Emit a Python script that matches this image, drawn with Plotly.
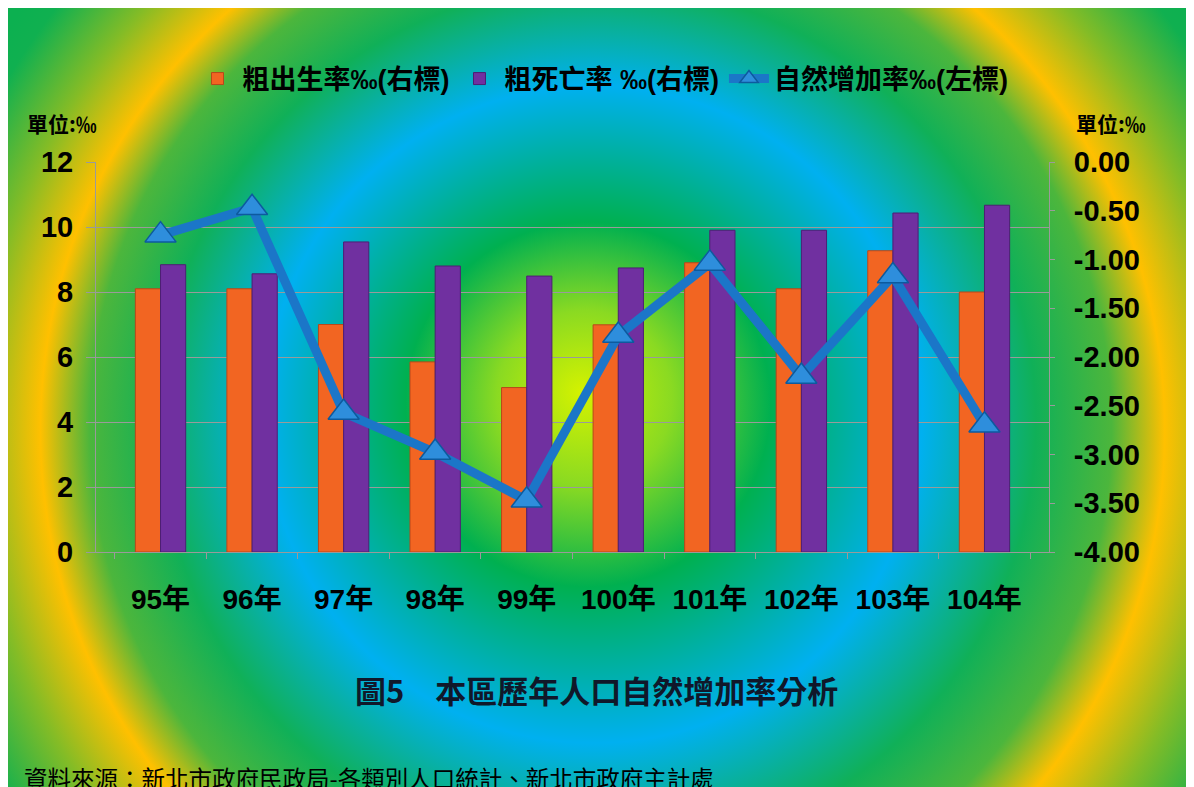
import base64
import plotly.graph_objects as go

# ---- data ----
years = ["95年", "96年", "97年", "98年", "99年", "100年", "101年", "102年", "103年", "104年"]
birth_rate = [8.10, 8.10, 7.00, 5.85, 5.06, 6.99, 8.90, 8.10, 9.27, 8.00]
death_rate = [8.84, 8.56, 9.54, 8.80, 8.49, 8.74, 9.90, 9.90, 10.43, 10.67]
natural_increase = [-0.75, -0.47, -2.57, -2.98, -3.47, -1.78, -1.04, -2.20, -1.17, -2.70]
right_ticks = [0.0, -0.5, -1.0, -1.5, -2.0, -2.5, -3.0, -3.5, -4.0]

legend_names = ["粗出生率‰(右標)", "粗死亡率 ‰(右標)", "自然增加率‰(左標)"]
title_text = "圖5　本區歷年人口自然增加率分析"
source_text = "資料來源：新北市政府民政局-各類別人口統計、新北市政府主計處"
unit_text = "單位:‰"

# ---- layout geometry (page offset of the figure) ----
OX, OY = 7, 6
W, H = 1194, 787
ML = 95 - OX
MT = 160 - OY
PW, PH = 953, 390
MR = W - ML - PW
MB = H - MT - PH

def px_x(x):  # page x -> paper
    return (x - OX - ML) / PW

def px_y(y):  # page y -> paper
    return (MT + PH - (y - OY)) / PH

# radial gradient background as SVG (figure coords)
svg = f'''<svg xmlns="http://www.w3.org/2000/svg" width="{W}" height="{H}" viewBox="0 0 {W} {H}" preserveAspectRatio="none">
<defs><radialGradient id="g" gradientUnits="userSpaceOnUse" cx="{608-OX}" cy="{440-OY}" r="730" fx="{580-OX}" fy="{390-OY}">
<stop offset="0" stop-color="#D4F200"/>
<stop offset="0.12" stop-color="#8ADA22"/>
<stop offset="0.25" stop-color="#00B050"/>
<stop offset="0.45" stop-color="#00B0F0"/>
<stop offset="0.60" stop-color="#10B058"/>
<stop offset="0.70" stop-color="#4CB63C"/>
<stop offset="0.77" stop-color="#FFC000"/>
<stop offset="0.86" stop-color="#84BC26"/>
<stop offset="0.96" stop-color="#10B050"/>
<stop offset="1" stop-color="#0CB050"/>
</radialGradient></defs>
<rect x="0" y="0" width="{W}" height="{H}" fill="url(#g)"/>
</svg>'''
bg_uri = "data:image/svg+xml;base64," + base64.b64encode(svg.encode("utf-8")).decode("ascii")

NUM_FONT = "Liberation Sans Narrow, Liberation Sans, Noto Sans CJK TC"
CJK_FONT = "Noto Sans CJK TC"

fig = go.Figure()
fig.add_trace(go.Bar(
    x=years, y=birth_rate, name=legend_names[0],
    marker=dict(color="#F26522", line=dict(color="#B8481A", width=1)),
    yaxis="y",
))
fig.add_trace(go.Bar(
    x=years, y=death_rate, name=legend_names[1],
    marker=dict(color="#7030A0", line=dict(color="#4E1E74", width=1)),
    yaxis="y",
))
fig.add_trace(go.Scatter(
    x=years, y=natural_increase, name=legend_names[2], mode="lines+markers",
    line=dict(color="#1B76C8", width=9),
    marker=dict(symbol="triangle-up", size=27, color="#2E8EDC",
                line=dict(color="#0D5A9E", width=1.5)),
    yaxis="y2",
))

axis_gray = "#9A9A9A"
fig.update_layout(
    width=W, height=H,
    margin=dict(l=ML, r=MR, t=MT, b=MB, autoexpand=False),
    paper_bgcolor="#2DB04A",
    plot_bgcolor="rgba(0,0,0,0)",
    barmode="group", bargap=0.45, bargroupgap=0,
    font=dict(family=NUM_FONT, color="black"),
    showlegend=True,
    legend=dict(
        orientation="h", x=px_x(602), y=px_y(77), xanchor="center", yanchor="middle",
        font=dict(family=NUM_FONT, size=27, color="black", weight="bold"),
        bgcolor="rgba(0,0,0,0)", traceorder="normal", itemwidth=40,
    ),
    xaxis=dict(
        type="category", showline=True, linecolor=axis_gray, linewidth=1,
        ticks="outside", ticklen=6, tickcolor=axis_gray, tickson="boundaries",
        tickfont=dict(family=NUM_FONT, size=28, color="black", weight="bold"),
        ticklabelstandoff=22, showgrid=False,
    ),
    yaxis=dict(
        range=[0, 12], dtick=2, showline=True, linecolor=axis_gray, linewidth=1,
        ticks="outside", ticklen=9, tickcolor=axis_gray,
        showgrid=True, gridcolor=axis_gray, gridwidth=1, zeroline=False,
        tickfont=dict(family=NUM_FONT, size=29, color="black", weight="bold"),
        ticklabelstandoff=7,
    ),
    yaxis2=dict(
        range=[-4, 0], overlaying="y", side="right",
        tickmode="array", tickvals=right_ticks,
        ticktext=[f"{v:.2f}" for v in right_ticks],
        showline=True, linecolor=axis_gray, linewidth=1,
        ticks="outside", ticklen=5, tickcolor=axis_gray,
        showgrid=False, zeroline=False,
        tickfont=dict(family=NUM_FONT, size=29, color="black", weight="bold"),
        ticklabelstandoff=13,
    ),
    images=[dict(
        source=bg_uri, xref="paper", yref="paper",
        x=-ML / PW, y=(MT + PH) / PH, sizex=W / PW, sizey=H / PH,
        xanchor="left", yanchor="top", sizing="stretch", layer="below",
    )],
    annotations=[
        dict(text=unit_text, xref="paper", yref="paper", x=px_x(61), y=px_y(121),
             xanchor="center", yanchor="middle", showarrow=False,
             font=dict(family=CJK_FONT, size=21, color="black", weight="bold")),
        dict(text=unit_text, xref="paper", yref="paper", x=px_x(1110), y=px_y(121),
             xanchor="center", yanchor="middle", showarrow=False,
             font=dict(family=CJK_FONT, size=21, color="black", weight="bold")),
        dict(text=title_text, xref="paper", yref="paper", x=px_x(595), y=px_y(687),
             xanchor="center", yanchor="middle", showarrow=False,
             font=dict(family=CJK_FONT, size=31, color="#10182A", weight="bold")),
        dict(text=source_text, xref="paper", yref="paper", x=px_x(21), y=px_y(776),
             xanchor="left", yanchor="middle", showarrow=False,
             font=dict(family=CJK_FONT, size=23.5, color="black")),
    ],
)

fig.write_html("out.html")
